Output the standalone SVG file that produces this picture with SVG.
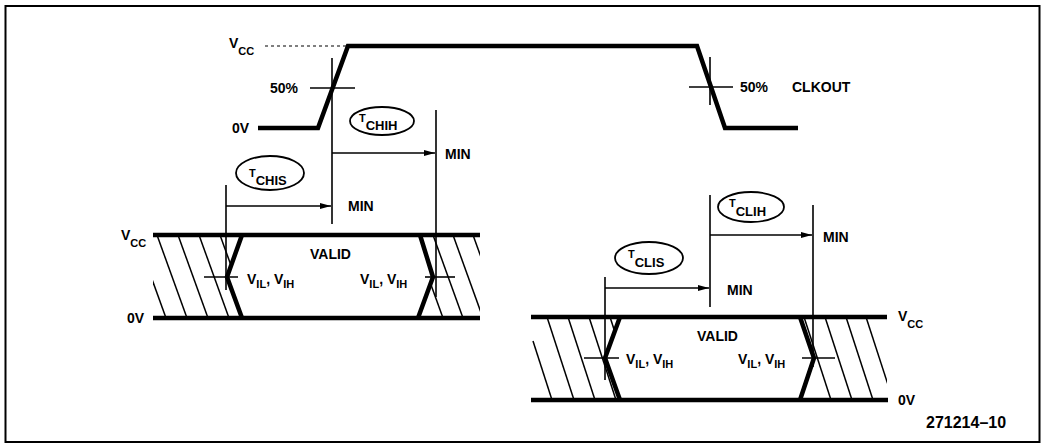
<svg xmlns="http://www.w3.org/2000/svg" width="1045" height="445" viewBox="0 0 1045 445">
<style>
text{font-family:"Liberation Sans",Arial,sans-serif;font-weight:bold;font-size:14px;fill:#000}
.sub{font-size:11px}
.tt{font-size:11px}
.ts{font-size:13px}
.thick{fill:none;stroke:#000;stroke-width:4.5;stroke-linejoin:miter}
.thin{fill:none;stroke:#000;stroke-width:1.6}
.hatch{fill:none;stroke:#000;stroke-width:1.5}
.dash{fill:none;stroke:#000;stroke-width:1.2;stroke-dasharray:3 3}
.oval{fill:none;stroke:#000;stroke-width:1.8}
</style>
<defs>
<marker id="arr" markerWidth="12" markerHeight="8" refX="11" refY="4" orient="auto" markerUnits="userSpaceOnUse"><path d="M0,1 L11,4 L0,7 Z" fill="#000"/></marker>
<clipPath id="c1"><polygon points="153,233 242,233 227,277 242,320 153,320"/></clipPath>
<clipPath id="c2"><polygon points="420,233 480,233 480,320 418,320 433,277"/></clipPath>
<clipPath id="c3"><polygon points="531,315 620,315 605,358 620,402 531,402"/></clipPath>
<clipPath id="c4"><polygon points="800,315 887,315 887,402 800,402 814,358"/></clipPath>
</defs>
<rect x="5.5" y="6" width="1034" height="436" fill="#fff" stroke="#000" stroke-width="2"/>

<g id="clkout">
<line class="dash" x1="265" y1="46" x2="346" y2="46"/>
<polyline class="thick" points="258,128 318,128 348,46 697,46 725,128 798,128"/>
<line class="thin" x1="310" y1="88" x2="355" y2="88"/>
<line class="thin" x1="689" y1="87" x2="733" y2="87"/>
<line class="thin" x1="710" y1="57" x2="710" y2="105"/>
<text x="229" y="48">V<tspan class="sub" dy="7">CC</tspan></text>
<text x="232" y="133">0V</text>
<text x="270" y="93">50%</text>
<text x="740" y="92">50%<tspan x="792">CLKOUT</tspan></text>
</g>

<g id="bus-left">
<g clip-path="url(#c1)">
<line class="hatch" x1="136" y1="235" x2="166" y2="318"/>
<line class="hatch" x1="157" y1="235" x2="187" y2="318"/>
<line class="hatch" x1="178" y1="235" x2="208" y2="318"/>
<line class="hatch" x1="199" y1="235" x2="229" y2="318"/>
<line class="hatch" x1="220" y1="235" x2="250" y2="318"/>
</g>
<g clip-path="url(#c2)">
<line class="hatch" x1="413" y1="235" x2="443" y2="318"/>
<line class="hatch" x1="433" y1="235" x2="463" y2="318"/>
<line class="hatch" x1="453" y1="235" x2="483" y2="318"/>
<line class="hatch" x1="473" y1="235" x2="503" y2="318"/>
</g>
<line class="thick" x1="153" y1="235" x2="480" y2="235"/>
<line class="thick" x1="153" y1="318" x2="480" y2="318"/>
<polyline class="thick" points="242,235 227,277 242,318"/>
<polyline class="thick" points="420,235 433,277 418,318"/>
<line class="thin" x1="204" y1="277" x2="238" y2="277"/>
<line class="thin" x1="425" y1="277" x2="455" y2="277"/>
<text x="121" y="240">V<tspan class="sub" dy="7">CC</tspan></text>
<text x="127" y="323">0V</text>
<text x="310" y="259">VALID</text>
<text x="247" y="284">V<tspan class="sub" dy="4">IL</tspan><tspan dy="-4">, V</tspan><tspan class="sub" dy="4">IH</tspan></text>
<text x="360" y="284">V<tspan class="sub" dy="4">IL</tspan><tspan dy="-4">, V</tspan><tspan class="sub" dy="4">IH</tspan></text>
</g>

<g id="bus-right">
<g clip-path="url(#c3)">
<line class="hatch" x1="533" y1="341" x2="552" y2="400"/>
<line class="hatch" x1="547" y1="317" x2="574" y2="400"/>
<line class="hatch" x1="568" y1="317" x2="595" y2="400"/>
<line class="hatch" x1="589" y1="317" x2="616" y2="400"/>
<line class="hatch" x1="610" y1="317" x2="637" y2="400"/>
</g>
<g clip-path="url(#c4)">
<line class="hatch" x1="804" y1="317" x2="831" y2="400"/>
<line class="hatch" x1="825" y1="317" x2="852" y2="400"/>
<line class="hatch" x1="846" y1="317" x2="873" y2="400"/>
<line class="hatch" x1="866" y1="317" x2="893" y2="400"/>
</g>
<line class="thick" x1="531" y1="317" x2="887" y2="317"/>
<line class="thick" x1="531" y1="400" x2="888" y2="400"/>
<polyline class="thick" points="620,317 605,358 620,400"/>
<polyline class="thick" points="800,317 814,358 800,400"/>
<line class="thin" x1="584" y1="358" x2="619" y2="358"/>
<line class="thin" x1="802" y1="358" x2="835" y2="358"/>
<text x="898" y="321">V<tspan class="sub" dy="7">CC</tspan></text>
<text x="898" y="405">0V</text>
<text x="697" y="341">VALID</text>
<text x="626" y="364">V<tspan class="sub" dy="4">IL</tspan><tspan dy="-4">, V</tspan><tspan class="sub" dy="4">IH</tspan></text>
<text x="738" y="364">V<tspan class="sub" dy="4">IL</tspan><tspan dy="-4">, V</tspan><tspan class="sub" dy="4">IH</tspan></text>
</g>

<g id="tchih">
<ellipse class="oval" cx="382" cy="121" rx="32" ry="14"/>
<text x="359" y="122" class="tt">T<tspan class="ts" dy="8">CHIH</tspan></text>
</g>
<g id="tchis">
<ellipse class="oval" cx="270" cy="173" rx="34" ry="17"/>
<text x="249" y="177" class="tt">T<tspan class="ts" dy="8">CHIS</tspan></text>
</g>
<g id="tclis">
<ellipse class="oval" cx="649" cy="258" rx="34" ry="16"/>
<text x="628" y="258" class="tt">T<tspan class="ts" dy="9">CLIS</tspan></text>
</g>
<g id="tclih">
<ellipse class="oval" cx="751" cy="207" rx="33" ry="15"/>
<text x="729" y="207" class="tt">T<tspan class="ts" dy="9">CLIH</tspan></text>
</g>

<g id="connectors">
<line class="thin" x1="332" y1="58" x2="332" y2="224"/>
<line class="thin" x1="436" y1="110" x2="436" y2="297"/>
<line class="thin" x1="226" y1="185" x2="226" y2="290"/>
<line class="thin" x1="332" y1="153" x2="435" y2="153" marker-end="url(#arr)"/>
<line class="thin" x1="226" y1="206" x2="331" y2="206" marker-end="url(#arr)"/>
<line class="thin" x1="605" y1="277" x2="605" y2="380"/>
<line class="thin" x1="710" y1="195" x2="710" y2="307"/>
<line class="thin" x1="813" y1="205" x2="813" y2="367"/>
<line class="thin" x1="605" y1="288" x2="709" y2="288" marker-end="url(#arr)"/>
<line class="thin" x1="710" y1="235" x2="812" y2="235" marker-end="url(#arr)"/>
</g>

<g id="min-labels">
<text x="445" y="159">MIN</text>
<text x="348" y="211">MIN</text>
<text x="823" y="242">MIN</text>
<text x="727" y="295">MIN</text>
</g>
<text x="926" y="428" style="font-size:16px">271214–10</text>
</svg>
